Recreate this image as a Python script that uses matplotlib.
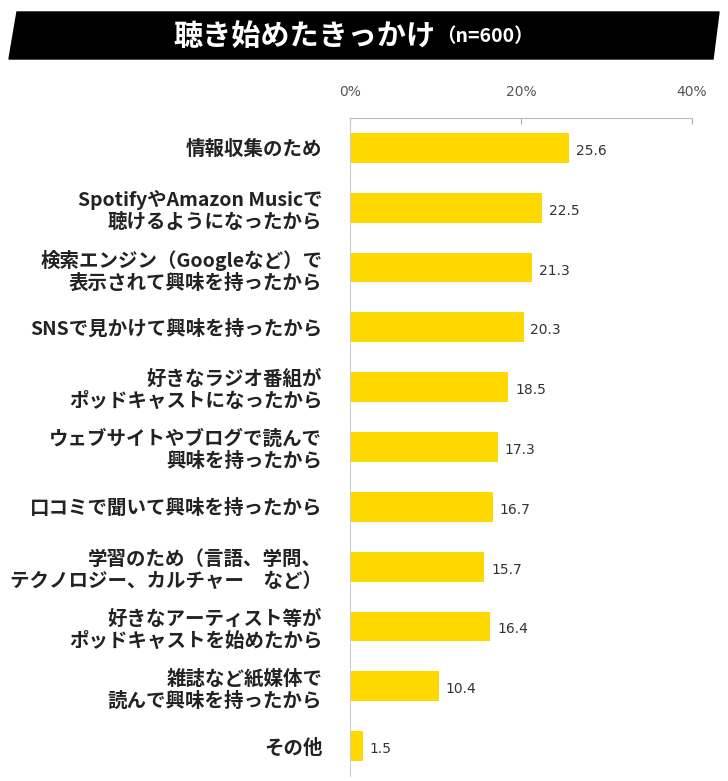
import matplotlib.pyplot as plt
from matplotlib.patches import Polygon

plt.rcParams['font.family'] = ['Noto Sans CJK JP', 'DejaVu Sans']

# data
labels = [
    '情報収集のため',
    'SpotifyやAmazon Musicで\n聴けるようになったから',
    '検索エンジン（Googleなど）で\n表示されて興味を持ったから',
    'SNSで見かけて興味を持ったから',
    '好きなラジオ番組が\nポッドキャストになったから',
    'ウェブサイトやブログで読んで\n興味を持ったから',
    '口コミで聞いて興味を持ったから',
    '学習のため（言語、学問、\nテクノロジー、カルチャー　など）',
    '好きなアーティスト等が\nポッドキャストを始めたから',
    '雑誌など紙媒体で\n読んで興味を持ったから',
    'その他',
]
values = [25.6, 22.5, 21.3, 20.3, 18.5, 17.3, 16.7, 15.7, 16.4, 10.4, 1.5]
ticks = [0, 20, 40]
tick_labels = ['0%', '20%', '40%']
title = '聴き始めたきっかけ'
subtitle = '（n=600）'

W, H = 728, 781
fig = plt.figure(figsize=(W / 100, H / 100), dpi=100)
ax = fig.add_axes([350 / W, 1 - 776 / H, 342 / W, 658 / H])

pos = list(range(len(labels)))
ax.barh(pos, values, height=0.5, color='#FFD800')
for p, v in zip(pos, values):
    ax.text(v + 0.8, p + 0.05, f'{v:.1f}', va='center', ha='left',
            fontsize=10, color='#333333', family=['DejaVu Sans'])

ax.set_xlim(0, 40)
ax.set_ylim(len(labels) - 0.5, -0.5)
ax.set_xticks(ticks)
ax.set_xticklabels(tick_labels, fontsize=10, color='#555555', family=['DejaVu Sans'])
ax.xaxis.tick_top()
ax.tick_params(axis='x', direction='in', length=4, color='#aaaaaa', pad=14)
ax.set_yticks(pos)
ax.set_yticklabels(labels, fontsize=14, fontweight='bold', color='#222222',
                   linespacing=1.2)
ax.tick_params(axis='y', length=0, pad=20)
for s in ['right', 'bottom']:
    ax.spines[s].set_visible(False)
ax.spines['top'].set_color('#bbbbbb')
ax.spines['left'].set_color('#cccccc')

# title banner
banner = Polygon([(17 / W, 1 - 12 / H), (719 / W, 1 - 12 / H),
                  (713 / W, 1 - 59 / H), (9 / W, 1 - 59 / H)],
                 closed=True, transform=fig.transFigure, color='black')
fig.patches.append(banner)
fig.text(436 / W, 1 - 36 / H, title, ha='right', va='center',
         fontsize=21, fontweight='bold', color='white')
fig.text(436 / W, 1 - 37 / H, subtitle, ha='left', va='center',
         fontsize=14, fontweight='bold', color='white')

fig.savefig('out.png', dpi=100)
